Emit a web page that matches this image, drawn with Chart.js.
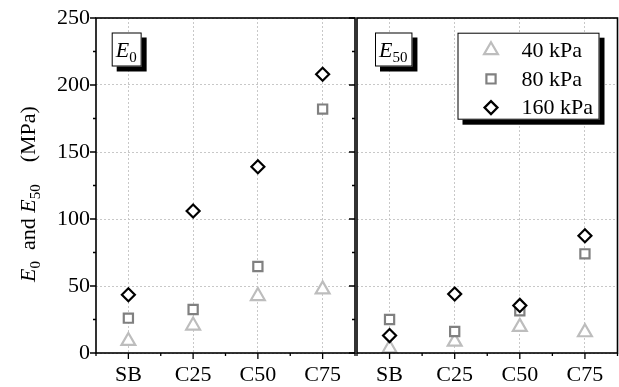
<!DOCTYPE html>
<html>
<head>
<meta charset="utf-8">
<script src="https://cdn.jsdelivr.net/npm/chart.js@4.4.1/dist/chart.umd.min.js"></script>
<style>
  html, body { margin: 0; padding: 0; background: #ffffff; }
  #wrap { position: relative; width: 619px; height: 387px; overflow: hidden; }
  canvas { position: absolute; top: 0; }
</style>
</head>
<body>
<div id="wrap">
  <canvas id="panelE0" width="360" height="387" style="left:0px"></canvas>
  <canvas id="panelE50" width="264" height="387" style="left:355px"></canvas>
</div>
<script>
// Stabilised columns and confining pressures
const categories = ['SB', 'C25', 'C50', 'C75'];
const seriesNames = ['40 kPa', '80 kPa', '160 kPa'];
const yTickValues = [0, 50, 100, 150, 200, 250];

// Initial modulus E0 (MPa)
const e0_40kPa  = [9, 20.5, 42.5, 47.5];
const e0_80kPa  = [26, 32.5, 64.5, 182];
const e0_160kPa = [43.5, 106, 139, 208];

// Secant modulus E50 (MPa)
const e50_40kPa  = [3.5, 8.5, 19.5, 15.5];
const e50_80kPa  = [25, 16, 31.5, 74];
const e50_160kPa = [13, 44, 35.5, 87.5];

const FONT = '"Liberation Serif", "Times New Roman", serif';
const markerStyles = [
  { shape: 'triangle', radius: 8,   color: '#bdbdbd' },
  { shape: 'rect',     radius: 6.5, color: '#808080' },
  { shape: 'rectRot',  radius: 6.5, color: '#000000' }
];

function makeDatasets(v40, v80, v160) {
  return [v40, v80, v160].map((vals, i) => ({
    label: seriesNames[i],
    data: vals,
    showLine: false,
    pointStyle: markerStyles[i].shape,
    pointRadius: markerStyles[i].radius,
    pointHoverRadius: markerStyles[i].radius,
    pointBorderWidth: 2.2,
    pointBorderColor: markerStyles[i].color,
    pointBackgroundColor: '#ffffff',
    borderColor: markerStyles[i].color,
    backgroundColor: '#ffffff',
    order: 2 - i
  }));
}

// Text runs: normal, italic or subscript pieces laid out left to right
function runFont(r) {
  const size = r.sub ? 15 : 22;
  return (r.it ? 'italic ' : '') + size + 'px ' + FONT;
}
function runsWidth(ctx, runs) {
  let w = 0;
  runs.forEach(r => { ctx.font = runFont(r); w += ctx.measureText(r.t).width; });
  return w;
}
function drawRuns(ctx, runs, x, y) {
  runs.forEach(r => {
    ctx.font = runFont(r);
    ctx.fillText(r.t, x, y + (r.sub ? 5 : 0));
    x += ctx.measureText(r.t).width;
  });
}

function shadowBox(ctx, x, y, w, h) {
  ctx.fillStyle = '#000000';
  ctx.fillRect(x + 5, y + 5, w, h);
  ctx.fillStyle = '#ffffff';
  ctx.fillRect(x, y, w, h);
  ctx.strokeStyle = '#000000';
  ctx.lineWidth = 1;
  ctx.strokeRect(x + 0.5, y + 0.5, w - 1, h - 1);
}

function panelPlugin(cfg) {
  return {
    id: 'panelDecor',
    afterDraw(chart) {
      const { ctx, chartArea: a, scales: { x, y } } = chart;
      ctx.save();
      // frame
      ctx.strokeStyle = '#000000';
      ctx.lineWidth = 1.6;
      ctx.strokeRect(a.left, a.top, a.right - a.left, a.bottom - a.top);
      // major and minor ticks
      ctx.lineWidth = 1.3;
      ctx.beginPath();
      for (let v = 0; v <= 250; v += 25) {
        const py = y.getPixelForValue(v);
        const len = v % 50 === 0 ? 6 : 3;
        if (cfg.leftTicks) { ctx.moveTo(a.left, py); ctx.lineTo(a.left - len, py); }
        if (cfg.rightTicks) { ctx.moveTo(a.right, py); ctx.lineTo(a.right - len, py); }
      }
      for (let i = -0.5; i <= categories.length - 0.5; i += 0.5) {
        const px = x.getPixelForValue(i);
        const len = Number.isInteger(i) ? 6 : 3;
        ctx.moveTo(px, a.bottom); ctx.lineTo(px, a.bottom + len);
      }
      ctx.stroke();

      // panel tag (E0 / E50)
      ctx.textBaseline = 'alphabetic';
      ctx.textAlign = 'left';
      const tag = [{ t: 'E', it: true }, { t: cfg.sub, sub: true }];
      const tw = runsWidth(ctx, tag);
      const bx = a.left + cfg.tagDx, by = a.top + 14.5;
      shadowBox(ctx, bx, by, tw + 9, 34);
      ctx.fillStyle = '#000000';
      drawRuns(ctx, tag, bx + 4, by + 24);

      // legend
      if (cfg.legend) {
        const lx = a.right - 160, ly = a.top + 14.7, lw = 142, lh = 87;
        shadowBox(ctx, lx, ly, lw, lh);
        chart.data.datasets.forEach((ds, i) => {
          const ry = ly + 17.5 + i * 28.7;
          ctx.strokeStyle = ds.pointBorderColor;
          ctx.fillStyle = '#ffffff';
          ctx.lineWidth = ds.pointBorderWidth;
          Chart.helpers.drawPoint(ctx, {
            pointStyle: ds.pointStyle, radius: ds.pointRadius,
            borderWidth: ds.pointBorderWidth, rotation: 0
          }, lx + 33.5, ry);
          ctx.fillStyle = '#000000';
          ctx.font = '22px ' + FONT;
          ctx.textBaseline = 'middle';
          ctx.fillText(ds.label, lx + 64, ry + 1);
        });
      }

      // y-axis title
      if (cfg.yTitle) {
        const runs = [
          { t: 'E', it: true }, { t: '0', sub: true }, { t: '  and ' },
          { t: 'E', it: true }, { t: '50', sub: true }, { t: '    (MPa)' }
        ];
        ctx.translate(35, 194);
        ctx.rotate(-Math.PI / 2);
        ctx.fillStyle = '#000000';
        ctx.textBaseline = 'alphabetic';
        const w = runsWidth(ctx, runs);
        drawRuns(ctx, runs, -w / 2, 0);
      }
      ctx.restore();
    }
  };
}

function makeOptions(showYLabels, yWidth, padRight) {
  return {
    responsive: false,
    animation: false,
    devicePixelRatio: 1,
    layout: { autoPadding: false, padding: { top: 18, right: padRight, bottom: 0, left: 0 } },
    plugins: { legend: { display: false }, tooltip: { enabled: false } },
    scales: {
      x: {
        type: 'category',
        offset: true,
        grid: { offset: false, color: '#c8c8c8', lineWidth: 1, drawTicks: false },
        border: { display: false, dash: [2, 2] },
        ticks: { color: '#000000', font: { family: FONT, size: 22 }, padding: 9, maxRotation: 0 },
        afterFit(s) { s.height = 34; s.paddingLeft = 0; s.paddingRight = 0; }
      },
      y: {
        min: 0, max: 250,
        afterBuildTicks(s) { s.ticks = yTickValues.map(v => ({ value: v })); },
        grid: { color: '#c8c8c8', lineWidth: 1, drawTicks: false },
        border: { display: false, dash: [2, 2] },
        ticks: { display: showYLabels, color: '#000000', font: { family: FONT, size: 22 }, padding: 6 },
        afterFit(s) { s.width = yWidth; s.paddingTop = 0; s.paddingBottom = 0; }
      }
    }
  };
}

new Chart(document.getElementById('panelE0'), {
  type: 'line',
  data: { labels: categories, datasets: makeDatasets(e0_40kPa, e0_80kPa, e0_160kPa) },
  options: makeOptions(true, 96, 5),
  plugins: [panelPlugin({ leftTicks: true, rightTicks: true, sub: '0', tagDx: 15.7, legend: false, yTitle: true })]
});

new Chart(document.getElementById('panelE50'), {
  type: 'line',
  data: { labels: categories, datasets: makeDatasets(e50_40kPa, e50_80kPa, e50_160kPa) },
  options: makeOptions(false, 2, 1.5),
  plugins: [panelPlugin({ leftTicks: false, rightTicks: false, sub: '50', tagDx: 18, legend: true, yTitle: false })]
});
</script>
</body>
</html>
